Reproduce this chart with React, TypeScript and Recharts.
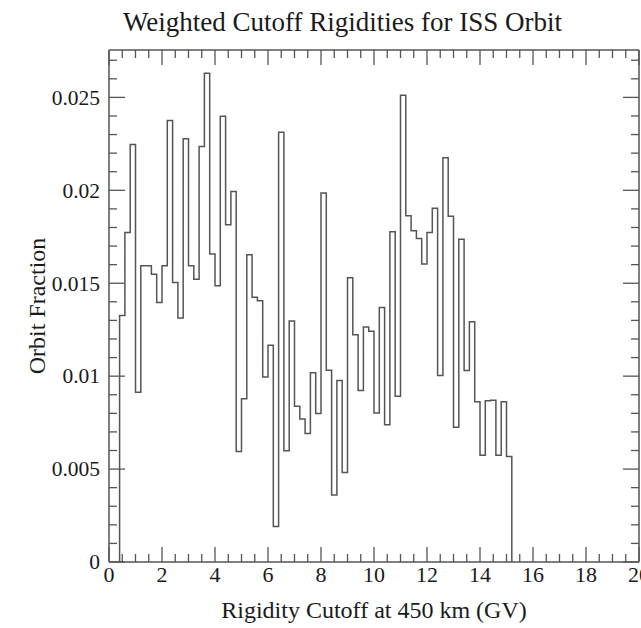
import React from 'react';
import { LineChart, Line, XAxis, YAxis, Label, ReferenceLine } from 'recharts';

// Histogram bins (left edges start at BIN_START, width BIN_WIDTH) in GV
const BIN_START = 0.4;
const BIN_WIDTH = 0.2;

// Orbit fraction per 0.2 GV bin, from 0.4 GV to 15.2 GV
const orbitFraction = [
  0.01327, 0.01773, 0.02247, 0.00914, 0.01594, 0.01594, 0.01549, 0.01396, 0.01594, 0.02376,
  0.01504, 0.01313, 0.02277, 0.01594, 0.01522, 0.02236, 0.0263, 0.01657, 0.01486, 0.02398,
  0.01815, 0.01993, 0.00595, 0.00878, 0.01653, 0.01424, 0.01406, 0.00995, 0.01166, 0.00191,
  0.02313, 0.00599, 0.01297, 0.00838, 0.0077, 0.00691, 0.01018, 0.00799, 0.01986, 0.01032,
  0.0036, 0.00977, 0.00482, 0.01529, 0.01223, 0.00923, 0.01264, 0.01241, 0.00802, 0.01369,
  0.00739, 0.01777, 0.00892, 0.02511, 0.01863, 0.01782, 0.01741, 0.01603, 0.01773, 0.01903,
  0.01004, 0.02175, 0.0186, 0.00725, 0.01737, 0.01031, 0.01293, 0.00862, 0.00574, 0.00867,
  0.00871, 0.00574, 0.00862, 0.00568,
];

const xMajorTicks = [0, 2, 4, 6, 8, 10, 12, 14, 16, 18, 20];
const xMinorTicks = [
  0.5, 1, 1.5, 2.5, 3, 3.5, 4.5, 5, 5.5, 6.5, 7, 7.5, 8.5, 9, 9.5, 10.5, 11, 11.5,
  12.5, 13, 13.5, 14.5, 15, 15.5, 16.5, 17, 17.5, 18.5, 19, 19.5,
];
const yMajorTicks = [0, 0.005, 0.01, 0.015, 0.02, 0.025];
const yMinorTicks = [
  0.001, 0.002, 0.003, 0.004, 0.006, 0.007, 0.008, 0.009, 0.011, 0.012, 0.013, 0.014,
  0.016, 0.017, 0.018, 0.019, 0.021, 0.022, 0.023, 0.024, 0.026, 0.027,
];

const X_DOMAIN: [number, number] = [0, 20];
const Y_DOMAIN: [number, number] = [0, 0.02755];

const TITLE = 'Weighted Cutoff Rigidities for ISS Orbit';
const X_LABEL = 'Rigidity Cutoff at 450 km (GV)';
const Y_LABEL = 'Orbit Fraction';

const histData = [
  { x: BIN_START, y: 0 },
  ...orbitFraction.map((v, i) => ({ x: BIN_START + i * BIN_WIDTH, y: v })),
  { x: BIN_START + orbitFraction.length * BIN_WIDTH, y: 0 },
];

const xAllTicks = [...xMajorTicks, ...xMinorTicks].sort((a, b) => a - b);
const yAllTicks = [...yMajorTicks, ...yMinorTicks].sort((a, b) => a - b);

// layout
const W = 641;
const H = 628;
const MARGIN = { top: 50, right: 2, bottom: 0, left: 0 };
const Y_AXIS_W = 109;
const X_AXIS_H = 66;
const PLOT_TOP = MARGIN.top;
const PLOT_RIGHT = W - MARGIN.right;
const X_TICK_MARGIN = 3;
const Y_TICK_MARGIN = 9;
const MAJOR_LEN = 15;
const MINOR_LEN = 8;

const FONT = '"Liberation Serif", "Times New Roman", serif';
const INK = '#1a1a1a';
const LINE = '#555555';

const XTick = (props: any) => {
  const { x, y, payload } = props;
  const v = payload.value as number;
  const major = xMajorTicks.includes(v);
  const len = major ? MAJOR_LEN : MINOR_LEN;
  const axisY = y - X_TICK_MARGIN;
  return (
    <g>
      <line x1={x} x2={x} y1={axisY} y2={axisY - len} stroke={LINE} strokeWidth={1.3} />
      <line x1={x} x2={x} y1={PLOT_TOP} y2={PLOT_TOP + len} stroke={LINE} strokeWidth={1.3} />
      {major && (
        <text x={x} y={y} dy="0.76em" textAnchor="middle" fontFamily={FONT} fontSize={22} fill={INK}>
          {String(v)}
        </text>
      )}
    </g>
  );
};

const YTick = (props: any) => {
  const { x, y, payload } = props;
  const v = payload.value as number;
  const major = yMajorTicks.includes(v);
  const len = major ? MAJOR_LEN + 1 : MINOR_LEN;
  const axisX = x + Y_TICK_MARGIN;
  return (
    <g>
      <line x1={axisX} x2={axisX + len} y1={y} y2={y} stroke={LINE} strokeWidth={1.3} />
      <line x1={PLOT_RIGHT} x2={PLOT_RIGHT - len} y1={y} y2={y} stroke={LINE} strokeWidth={1.3} />
      {major && (
        <text x={x} y={y} dy="0.34em" textAnchor="end" fontFamily={FONT} fontSize={21.5} fill={INK}>
          {String(v)}
        </text>
      )}
    </g>
  );
};

export default function App() {
  return (
    <div style={{ position: 'absolute', left: 0, top: 0, width: W, height: H, background: '#fff' }}>
      <div
        style={{
          position: 'absolute',
          left: 0,
          top: 7,
          width: 685,
          textAlign: 'center',
          fontFamily: FONT,
          fontSize: 27,
          lineHeight: '30px',
          color: INK,
          whiteSpace: 'nowrap',
        }}
      >
        {TITLE}
      </div>
      <LineChart width={W} height={H} data={histData} margin={MARGIN}>
        <XAxis
          xAxisId="x"
          type="number"
          dataKey="x"
          domain={X_DOMAIN}
          allowDataOverflow
          ticks={xAllTicks}
          interval={0}
          height={X_AXIS_H}
          tickSize={0}
          tickMargin={X_TICK_MARGIN}
          tickLine={false}
          axisLine={{ stroke: LINE, strokeWidth: 1.5 }}
          tick={<XTick />}
        >
          <Label
            value={X_LABEL}
            position="insideBottom"
            offset={10}
            style={{ fontFamily: FONT, fontSize: 24, fill: INK }}
          />
        </XAxis>
        <YAxis
          yAxisId="y"
          type="number"
          domain={Y_DOMAIN}
          allowDataOverflow
          ticks={yAllTicks}
          interval={0}
          width={Y_AXIS_W}
          tickSize={0}
          tickMargin={Y_TICK_MARGIN}
          tickLine={false}
          axisLine={{ stroke: LINE, strokeWidth: 1.5 }}
          tick={<YTick />}
        >
          <Label
            content={() => (
              <text
                x={37}
                y={306}
                transform="rotate(-90 37 306)"
                textAnchor="middle"
                dominantBaseline="central"
                style={{ fontFamily: FONT, fontSize: 24, fill: INK }}
              >
                {Y_LABEL}
              </text>
            )}
          />
        </YAxis>

        <ReferenceLine xAxisId="x" yAxisId="y" y={Y_DOMAIN[1]} stroke={LINE} strokeWidth={1.5} />
        <ReferenceLine xAxisId="x" yAxisId="y" x={X_DOMAIN[1]} stroke={LINE} strokeWidth={1.5} />

        <Line
          xAxisId="x"
          yAxisId="y"
          type="stepAfter"
          dataKey="y"
          stroke={LINE}
          strokeWidth={1.5}
          dot={false}
          activeDot={false}
          isAnimationActive={false}
        />
      </LineChart>
    </div>
  );
}
